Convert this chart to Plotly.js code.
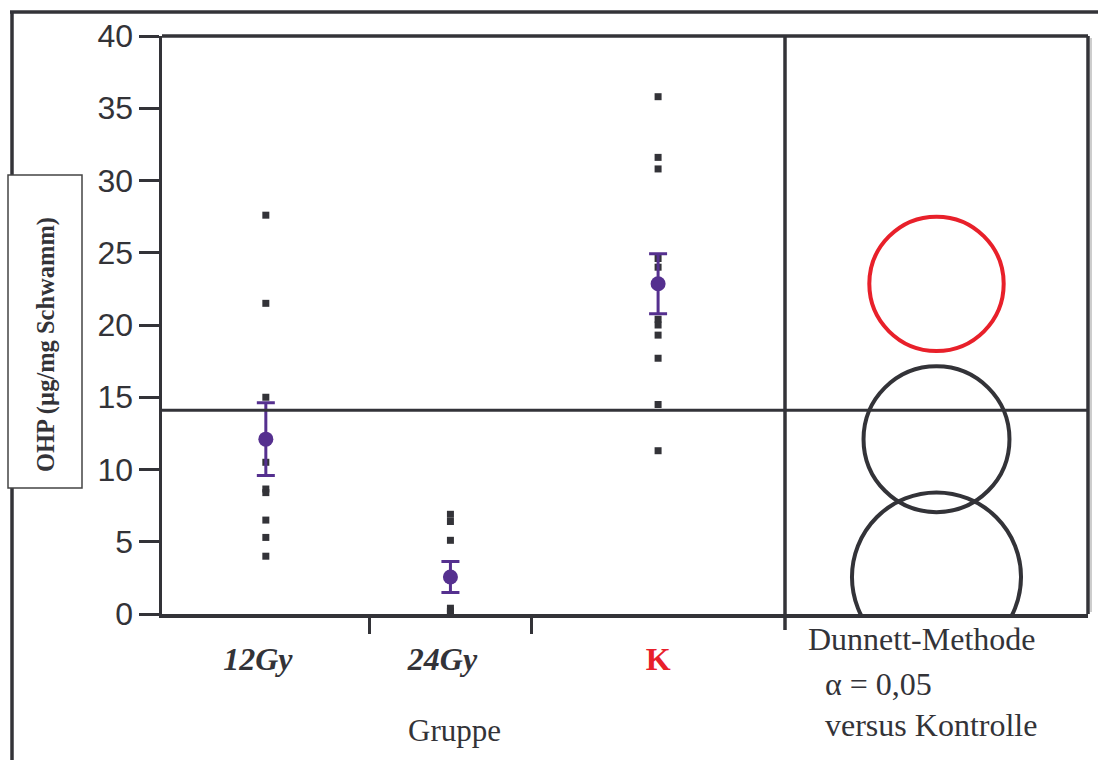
<!DOCTYPE html>
<html>
<head>
<meta charset="utf-8">
<script src="https://cdn.plot.ly/plotly-3.0.1.min.js"></script>
<style>
  html, body { margin: 0; padding: 0; background: #ffffff; }
  #chart { width: 1098px; height: 760px; }
</style>
</head>
<body>
<div id="chart"></div>
<script>
// ---------------- data ----------------
const groups = ['12Gy', '24Gy', 'K'];
const groupLabels = [
  '<b><i>12Gy</i></b>&nbsp;&nbsp;',
  '<b><i>24Gy</i></b>&nbsp;&nbsp;',
  '<b><span style="color:#e8202a">K</span></b>'
];
const values12Gy = [27.6, 21.5, 15.0, 10.5, 8.65, 8.4, 6.5, 5.3, 4.0];
const values24Gy = [6.9, 6.4, 5.1, 0.4, 0.2, 0.0, -0.2];
const valuesK = [35.8, 31.6, 30.8, 24.6, 24.0, 20.4, 20.0, 19.3, 17.7, 14.5, 11.3];
const groupMeans = [12.1, 2.56, 22.85];
const groupStdErr = [2.52, 1.07, 2.08];
const circleRadius = [5.05, 5.85, 4.65];   // Dunnett comparison circles (y units)
const circleColors = ['#333338', '#333338', '#e8202a'];
const grandMean = 14.1;
const yTitle = '<b>OHP (µg/mg Schwamm)</b>';
const xTitle = 'Gruppe';
const noteLines = ['Dunnett-Methode', 'α = 0,05', 'versus Kontrolle'];

// ---------------- derived positions (group width ∝ n) ----------------
const allValues = [values12Gy, values24Gy, valuesK];
const counts = allValues.map(v => v.length);
const bounds = [0];
counts.forEach(n => bounds.push(bounds[bounds.length - 1] + n));
const centers = counts.map((n, i) => bounds[i] + n / 2);
const total = bounds[bounds.length - 1];

const px = [], py = [];
allValues.forEach((vals, i) => vals.forEach(v => { px.push(centers[i]); py.push(v); }));

const INK = '#333338';
const PURPLE = '#55308f';

// layout geometry (pixels)
const W = 1098, H = 760;
const L = 162, R = 1088, T = 36, B = 614;
const pw = R - L, ph = B - T;
const xp = p => (p - L) / pw;
const yp = p => (B - p) / ph;
const split = xp(785);

const traces = [
  {
    x: px, y: py, type: 'scatter', mode: 'markers', xaxis: 'x3', yaxis: 'y',
    cliponaxis: false,
    marker: { symbol: 'square', size: 7, color: INK },
    hoverinfo: 'skip', showlegend: false
  },
  {
    x: centers, y: groupMeans, type: 'scatter', mode: 'markers', xaxis: 'x3', yaxis: 'y',
    marker: { symbol: 'circle', size: 15, color: PURPLE },
    error_y: { type: 'data', array: groupStdErr, visible: true, color: PURPLE, thickness: 3, width: 9 },
    hoverinfo: 'skip', showlegend: false
  }
];

// right panel: comparison circles on an equal-scale axis
const panelUnits = (R - 785) / (ph / 40);
const circleCenterX = panelUnits / 2;
traces.push({
  x: groupMeans.map(() => circleCenterX), y: groupMeans, type: 'scatter', mode: 'markers',
  xaxis: 'x2', yaxis: 'y', marker: { size: 1, opacity: 0 }, hoverinfo: 'skip', showlegend: false
});
// keeps the main category axis (boundary ticks) in place
traces.push({
  x: centers, y: groupMeans, type: 'scatter', mode: 'markers', xaxis: 'x', yaxis: 'y',
  marker: { size: 1, opacity: 0 }, hoverinfo: 'skip', showlegend: false
});

const shapes = [];
// outer frame lines
shapes.push({ type: 'line', xref: 'paper', yref: 'paper', x0: xp(10), x1: xp(1100), y0: yp(12), y1: yp(12), line: { color: INK, width: 3.5 } });
shapes.push({ type: 'line', xref: 'paper', yref: 'paper', x0: xp(12), x1: xp(12), y0: yp(11), y1: yp(765), line: { color: INK, width: 3.5 } });
// y-title box
shapes.push({ type: 'rect', xref: 'paper', yref: 'paper', x0: xp(8), x1: xp(82), y0: yp(488), y1: yp(175), fillcolor: '#ffffff', line: { color: '#444444', width: 1.5 } });
// plot frame
shapes.push({ type: 'line', xref: 'paper', yref: 'paper', x0: 0, x1: 1, y0: 1, y1: 1, line: { color: INK, width: 3.5 } });
shapes.push({ type: 'line', xref: 'paper', yref: 'paper', x0: 1, x1: 1, y0: 0, y1: 1, line: { color: INK, width: 3.5 } });
shapes.push({ type: 'line', xref: 'paper', yref: 'paper', x0: xp(1091), x1: xp(1091), y0: yp(612), y1: yp(38), line: { color: '#bdbdbd', width: 1.5 } });
shapes.push({ type: 'line', xref: 'paper', yref: 'paper', x0: split, x1: split, y0: yp(630), y1: 1, line: { color: INK, width: 3.5 } });
// grand mean line
shapes.push({ type: 'line', xref: 'paper', yref: 'y', x0: 0, x1: 1, y0: grandMean, y1: grandMean, line: { color: INK, width: 3 } });
// comparison circles
groupMeans.forEach((m, i) => {
  shapes.push({
    type: 'circle', xref: 'x2', yref: 'y',
    x0: circleCenterX - circleRadius[i], x1: circleCenterX + circleRadius[i],
    y0: m - circleRadius[i], y1: m + circleRadius[i],
    line: { color: circleColors[i], width: 4 }, fillcolor: 'rgba(0,0,0,0)'
  });
});

const serif = 'Liberation Serif, Times New Roman, serif';
const annotations = [
  { xref: 'paper', yref: 'paper', x: xp(46), y: yp(345), text: yTitle, textangle: -90, showarrow: false,
    xanchor: 'center', yanchor: 'middle', font: { family: serif, size: 24.5, color: INK } },
  { xref: 'paper', yref: 'paper', x: xp(454), y: yp(730), text: xTitle, showarrow: false,
    xanchor: 'center', yanchor: 'middle', font: { family: serif, size: 31, color: INK } },
  { xref: 'paper', yref: 'paper', x: xp(806), y: yp(639), text: noteLines[0], showarrow: false,
    xanchor: 'left', yanchor: 'middle', font: { family: serif, size: 32, color: INK } },
  { xref: 'paper', yref: 'paper', x: xp(823), y: yp(684), text: noteLines[1], showarrow: false,
    xanchor: 'left', yanchor: 'middle', font: { family: serif, size: 32, color: INK } },
  { xref: 'paper', yref: 'paper', x: xp(823), y: yp(725), text: noteLines[2], showarrow: false,
    xanchor: 'left', yanchor: 'middle', font: { family: serif, size: 32, color: INK } }
];

const layout = {
  width: W, height: H,
  margin: { l: L, r: W - R, t: T, b: H - B, pad: 0 },
  paper_bgcolor: '#ffffff', plot_bgcolor: '#ffffff',
  showlegend: false,
  xaxis: {
    domain: [0, split], range: [0, total], anchor: 'y',
    tickmode: 'array', tickvals: bounds.slice(1, -1), ticktext: bounds.slice(1, -1).map(() => ''),
    ticks: 'outside', ticklen: 16, tickwidth: 3, tickcolor: INK,
    showticklabels: false, showline: true, linewidth: 3.5, linecolor: INK,
    showgrid: false, zeroline: false, fixedrange: true
  },
  xaxis3: {
    domain: [0, split], range: [0, total], anchor: 'y', overlaying: 'x', side: 'bottom',
    tickmode: 'array', tickvals: centers, ticktext: groupLabels, ticks: '',
    ticklabelstandoff: 23,
    tickfont: { family: serif, size: 32, color: INK },
    showline: false, showgrid: false, zeroline: false, fixedrange: true
  },
  xaxis2: {
    domain: [split, 1], range: [0, panelUnits], anchor: 'y',
    scaleanchor: 'y', scaleratio: 1,
    showticklabels: false, ticks: '', showline: true, linewidth: 3.5, linecolor: INK,
    showgrid: false, zeroline: false, fixedrange: true
  },
  yaxis: {
    range: [0, 40], tickmode: 'linear', tick0: 0, dtick: 5,
    ticks: 'outside', ticklen: 20, tickwidth: 3, tickcolor: INK,
    ticklabelstandoff: -1,
    tickfont: { family: 'Liberation Sans, Arial, sans-serif', size: 32, color: INK },
    showline: true, linewidth: 3.5, linecolor: INK,
    showgrid: false, zeroline: false, fixedrange: true
  },
  shapes: shapes,
  annotations: annotations
};

Plotly.newPlot('chart', traces, layout, { displayModeBar: false, staticPlot: true });
</script>
</body>
</html>
